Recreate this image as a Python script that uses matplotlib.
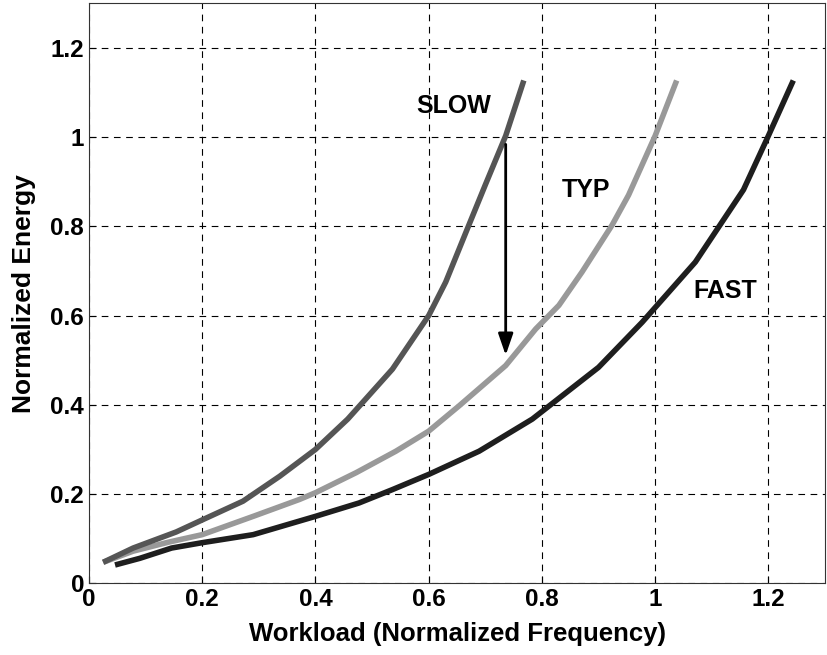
import matplotlib
matplotlib.use("Agg")
import matplotlib.pyplot as plt

plt.rcParams["font.family"] = ["Liberation Sans", "DejaVu Sans"]
plt.rcParams["font.weight"] = "bold"

# curve samples
slow_x = [0.025, 0.078, 0.154, 0.200, 0.272, 0.337, 0.400, 0.457, 0.536, 0.600,
          0.630, 0.671, 0.700, 0.736, 0.768]
slow_y = [0.047, 0.079, 0.115, 0.142, 0.184, 0.240, 0.300, 0.368, 0.480, 0.600,
          0.675, 0.803, 0.893, 1.003, 1.127]

typ_x = [0.025, 0.078, 0.140, 0.200, 0.290, 0.372, 0.400, 0.472, 0.542, 0.600,
         0.654, 0.736, 0.789, 0.830, 0.871, 0.924, 0.953, 1.000, 1.038]
typ_y = [0.047, 0.072, 0.092, 0.109, 0.150, 0.188, 0.203, 0.248, 0.296, 0.341,
         0.398, 0.488, 0.570, 0.623, 0.698, 0.803, 0.870, 1.003, 1.127]

fast_x = [0.046, 0.090, 0.146, 0.200, 0.290, 0.400, 0.477, 0.536, 0.600, 0.689,
          0.783, 0.900, 0.977, 1.071, 1.156, 1.200, 1.244]
fast_y = [0.041, 0.056, 0.079, 0.091, 0.109, 0.150, 0.180, 0.210, 0.244, 0.296,
          0.368, 0.484, 0.585, 0.720, 0.882, 1.003, 1.127]

ticks = [0, 0.2, 0.4, 0.6, 0.8, 1, 1.2]
tick_labels = ["0", "0.2", "0.4", "0.6", "0.8", "1", "1.2"]

fig = plt.figure(figsize=(8.27, 6.55), dpi=100)
ax = fig.add_axes([0.1076, 0.1095, 0.89, 0.8855])

ax.plot(typ_x, typ_y, color="#999999", lw=4, solid_capstyle="butt", zorder=3)
ax.plot(fast_x, fast_y, color="#1e1e1e", lw=4, solid_capstyle="butt", zorder=3)
ax.plot(slow_x, slow_y, color="#555555", lw=4, solid_capstyle="butt", zorder=4)

ax.annotate("", xy=(0.736, 0.505), xytext=(0.736, 0.99),
            arrowprops=dict(arrowstyle="-|>,head_width=0.45,head_length=1.3",
                            color="black", lw=2), zorder=5)

ax.text(0.645, 1.07, "SLOW", fontsize=18, fontweight="bold", ha="center", va="center")
ax.text(0.877, 0.882, "TYP", fontsize=18, fontweight="bold", ha="center", va="center")
ax.text(1.124, 0.656, "FAST", fontsize=18, fontweight="bold", ha="center", va="center")

ax.set_xlim(0, 1.3)
ax.set_ylim(0, 1.3)
ax.set_xticks(ticks)
ax.set_xticklabels(tick_labels)
ax.set_yticks(ticks)
ax.set_yticklabels(tick_labels)
ax.tick_params(direction="in", labelsize=17.5, length=5, width=0.8)
ax.grid(True, color="black", linestyle=(0, (6, 5)), linewidth=0.8)
for spine in ax.spines.values():
    spine.set_linewidth(0.8)
    spine.set_color("#333333")

ax.set_xlabel("Workload (Normalized Frequency)", fontsize=18.5, fontweight="bold", labelpad=8)
ax.set_ylabel("Normalized Energy", fontsize=19, fontweight="bold", labelpad=10)

fig.savefig("out.png", dpi=100)
